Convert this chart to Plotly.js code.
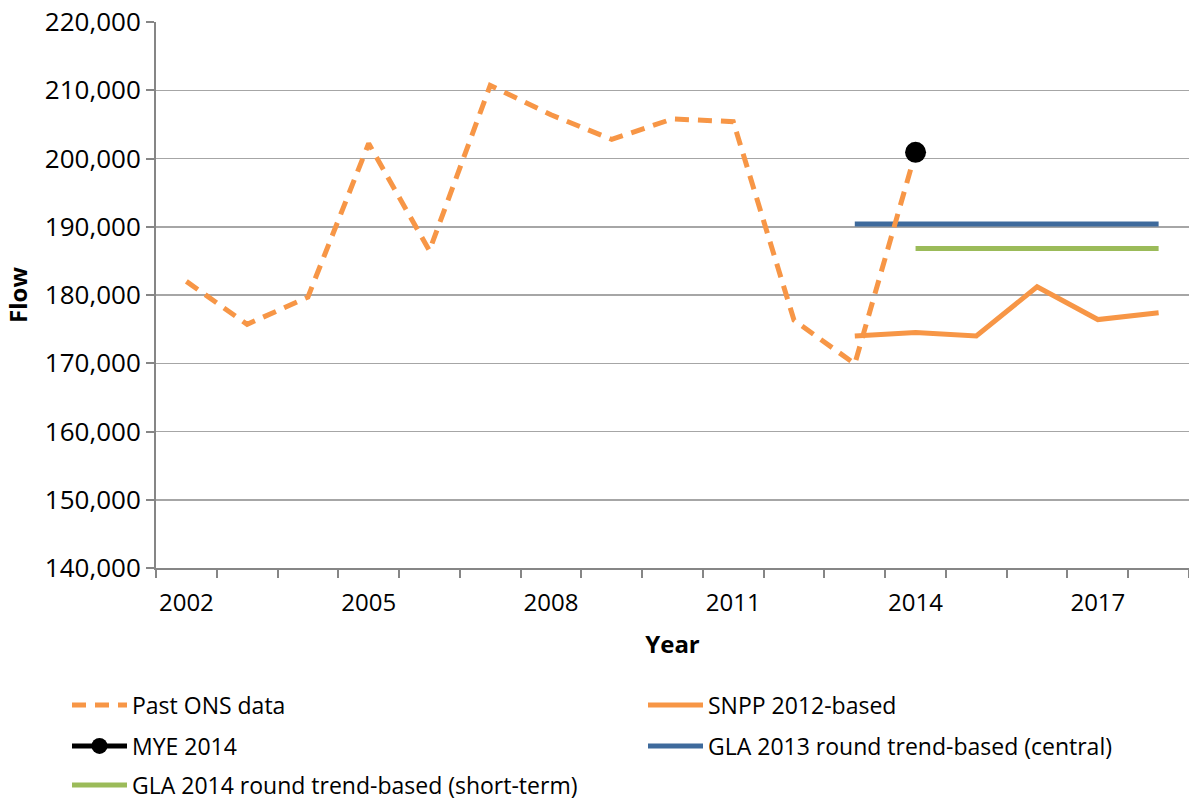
<!DOCTYPE html>
<html>
<head>
<meta charset="utf-8">
<script src="https://cdn.plot.ly/plotly-3.0.1.min.js"></script>
<style>
html,body{margin:0;padding:0;background:#fff;}
#chart{width:1189px;height:798px;}
</style>
</head>
<body>
<div id="chart"></div>
<script>
// Data
const onsYears = [2002, 2003, 2004, 2005, 2006, 2007, 2008, 2009, 2010, 2011, 2012, 2013, 2014];
const onsFlow  = [182000, 175700, 179700, 202200, 186500, 210700, 206400, 202800, 205800, 205400, 176300, 169900, 200900];

const snppYears = [2013, 2014, 2015, 2016, 2017, 2018];
const snppFlow  = [174000, 174500, 174000, 181200, 176400, 177400];

const myeYears = [2014];
const myeFlow  = [200900];

const gla13Years = [2013, 2014, 2015, 2016, 2017, 2018];
const gla13Flow  = [190400, 190400, 190400, 190400, 190400, 190400];

const gla14Years = [2014, 2015, 2016, 2017, 2018];
const gla14Flow  = [186800, 186800, 186800, 186800, 186800];

const xTickYears = [2002, 2005, 2008, 2011, 2014, 2017];

const FONT = "'Open Sans', Lato, sans-serif";
const ORANGE = '#f79646';
const BLUE = '#3e6a9c';
const GREEN = '#9bbb59';

const traces = [
  {x: snppYears, y: snppFlow, name: 'SNPP 2012-based', mode: 'lines',
   line: {color: ORANGE, width: 5}, legend: 'legend2'},
  {x: gla13Years, y: gla13Flow, name: 'GLA 2013 round trend-based (central)', mode: 'lines',
   line: {color: BLUE, width: 5}, legend: 'legend4'},
  {x: gla14Years, y: gla14Flow, name: 'GLA 2014 round trend-based (short-term)', mode: 'lines',
   line: {color: GREEN, width: 5}, legend: 'legend5'},
  {x: onsYears, y: onsFlow, name: 'Past ONS data', mode: 'lines',
   line: {color: ORANGE, width: 5, dash: '14px,9px'}, legend: 'legend'},
  {x: myeYears, y: myeFlow, name: 'MYE 2014', mode: 'lines+markers',
   line: {color: '#000', width: 5}, marker: {color: '#000', size: 21},
   legend: 'legend3'}
];

const W = 1189, H = 798;
function legendAt(px, py) {
  return {
    orientation: 'h', xref: 'container', yref: 'container',
    x: px / W, y: 1 - py / H, xanchor: 'left', yanchor: 'middle',
    font: {family: FONT, size: 23, color: '#000'},
    bgcolor: 'rgba(0,0,0,0)', itemwidth: 55
  };
}

const layout = {
  width: W, height: H,
  margin: {l: 156, r: 0, t: 22, b: 230, autoexpand: false},
  paper_bgcolor: '#fff', plot_bgcolor: '#fff',
  font: {family: FONT, color: '#000'},
  showlegend: true,
  xaxis: {
    type: 'linear', range: [2001.5, 2018.5], fixedrange: true,
    tickmode: 'array', tickvals: xTickYears, ticktext: xTickYears.map(String),
    ticks: '', showgrid: false, zeroline: false,
    showline: true, linecolor: '#868686', linewidth: 2,
    tickfont: {family: FONT, size: 24, color: '#000'},
    ticklabelstandoff: 12,
    minor: {tick0: 2001.5, dtick: 1, ticks: 'outside', ticklen: 8, tickwidth: 2,
            tickcolor: '#868686', showgrid: false},
    title: {text: '<b>Year</b>', font: {family: FONT, size: 24, color: '#000'}, standoff: 19}
  },
  yaxis: {
    range: [140000, 220000], dtick: 10000, tickformat: ',d', fixedrange: true,
    showgrid: true, gridcolor: '#a6a6a6', gridwidth: 1.5,
    zeroline: false, showline: true, linecolor: '#868686', linewidth: 2,
    ticks: 'outside', ticklen: 8, tickwidth: 2, tickcolor: '#868686',
    tickfont: {family: FONT, size: 26, color: '#000'},
    title: {text: '<b>Flow</b>', font: {family: FONT, size: 24, color: '#000'}, standoff: 10}
  },
  legend:  legendAt(67, 705),
  legend2: legendAt(643, 705),
  legend3: legendAt(67, 746),
  legend4: legendAt(643, 746),
  legend5: legendAt(67, 785)
};

Plotly.newPlot('chart', traces, layout, {displayModeBar: false, staticPlot: true});
</script>
</body>
</html>
